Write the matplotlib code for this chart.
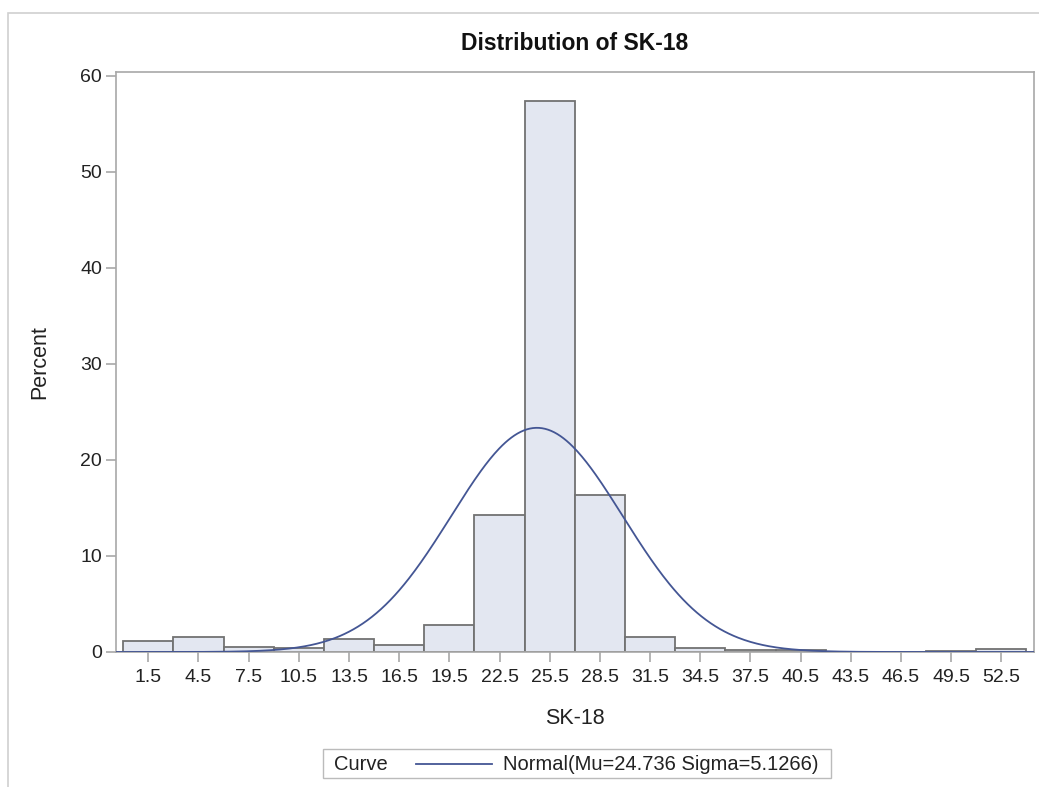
import numpy as np
import matplotlib.pyplot as plt
from matplotlib.patches import Rectangle

plt.rcParams['font.family'] = ['Liberation Sans', 'DejaVu Sans']

# ======================
# DATOS
# ======================
midpoints = [1.5, 4.5, 7.5, 10.5, 13.5, 16.5, 19.5, 22.5, 25.5,
             28.5, 31.5, 34.5, 37.5, 40.5, 43.5, 46.5, 49.5, 52.5]
percent = [1.1, 1.6, 0.55, 0.4, 1.35, 0.72, 2.8, 14.3, 57.4,
           16.4, 1.6, 0.42, 0.24, 0.2, 0.05, 0.03, 0.1, 0.27]
bin_width = 3
mu = 24.736
sigma = 5.1266
tick_labels = ["1.5", "4.5", "7.5", "10.5", "13.5", "16.5", "19.5", "22.5", "25.5",
               "28.5", "31.5", "34.5", "37.5", "40.5", "43.5", "46.5", "49.5", "52.5"]

fill = "#E3E7F1"
edge = "#727272"
curve_col = "#445694"
frame = "#A8A8A8"
text_col = "#222222"

fig = plt.figure(figsize=(10.39, 7.87), dpi=100)

# marco exterior
fig.patches.append(Rectangle((8 / 1039, -0.1), 1.2, 1 - 13 / 787 + 0.1,
                             transform=fig.transFigure, fill=False,
                             edgecolor="#D0D0D0", linewidth=1.2))

ax = fig.add_axes([116 / 1039, 1 - 652 / 787, (1034 - 116) / 1039, (652 - 72) / 787])

ax.bar(midpoints, percent, width=bin_width, color=fill, edgecolor=edge,
       linewidth=1.3, zorder=2)

# curva normal
xs = np.linspace(-0.43, 54.45, 600)
ys = 100 * bin_width / (sigma * np.sqrt(2 * np.pi)) * np.exp(-0.5 * ((xs - mu) / sigma) ** 2)
ax.plot(xs, ys, color=curve_col, linewidth=1.3, zorder=3)

ax.set_xlim(-0.43, 54.45)
ax.set_ylim(0, 60.4)
ax.set_xticks(midpoints)
ax.set_xticklabels(tick_labels)
ax.set_yticks([0, 10, 20, 30, 40, 50, 60])

for s in ax.spines.values():
    s.set_color(frame)
    s.set_linewidth(1.2)
ax.tick_params(axis='both', colors=frame, length=7, width=1.2, labelsize=14,
               labelcolor=text_col, pad=3)
ax.tick_params(axis='x', pad=5)

ax.set_xlabel("SK-18", fontsize=15.5, color=text_col, va="center")
ax.xaxis.set_label_coords(0.5, (652 - 718) / 580)
ax.set_ylabel("Percent", fontsize=15.5, color=text_col, va="center")
ax.yaxis.set_label_coords((40 - 116) / 918, 0.5)

fig.text(575 / 1039, 1 - 44 / 787, "Distribution of SK-18", ha="center", va="center",
         fontsize=16.5, fontweight="bold", color="#111111")

# leyenda
fig.patches.append(Rectangle((323 / 1039, 1 - 778 / 787), (831 - 323) / 1039, 29 / 787,
                             transform=fig.transFigure, fill=False,
                             edgecolor="#BBBBBB", linewidth=1))
fig.text(334 / 1039, 1 - 764 / 787, "Curve", ha="left", va="center",
         fontsize=14.5, color=text_col)
fig.add_artist(plt.Line2D([416 / 1039, 492 / 1039], [1 - 764 / 787, 1 - 764 / 787],
                          transform=fig.transFigure, color=curve_col, linewidth=1.3))
fig.text(503 / 1039, 1 - 764 / 787, "Normal(Mu=24.736 Sigma=5.1266)", ha="left",
         va="center", fontsize=14.5, color=text_col)

plt.savefig("out.png", dpi=100)
